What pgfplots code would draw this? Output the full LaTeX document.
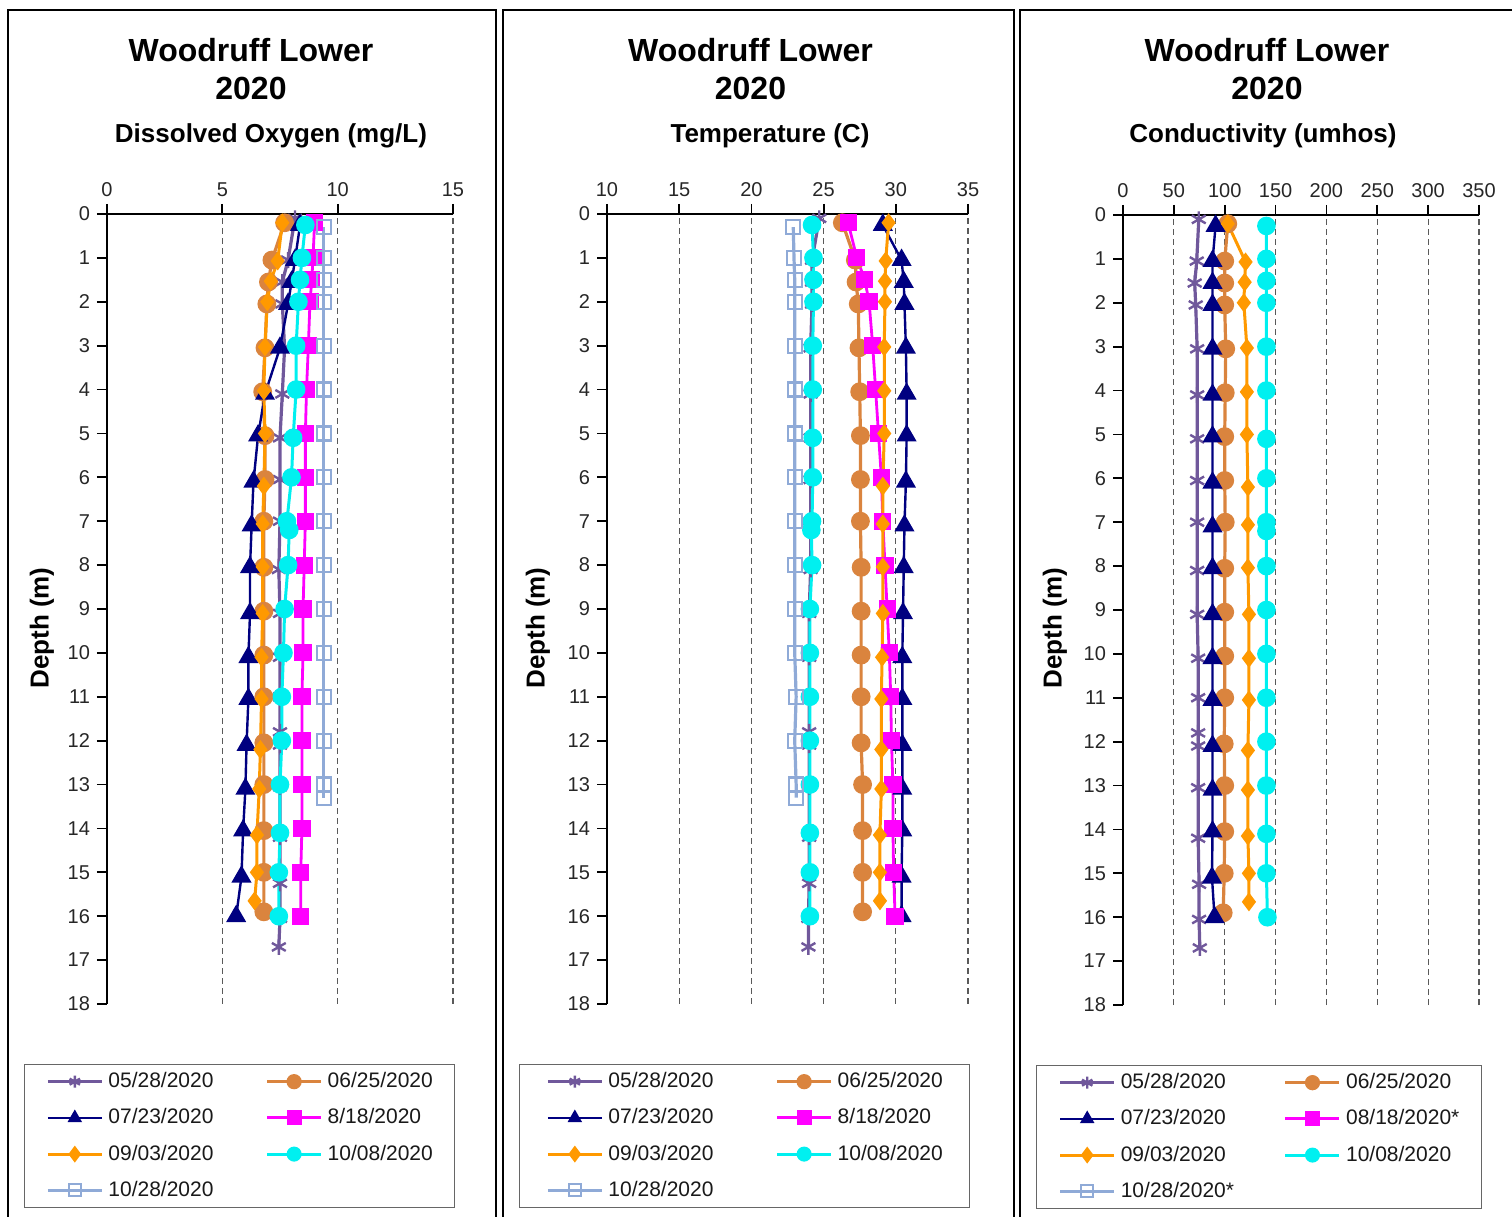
\documentclass[border=0pt]{standalone}
\usepackage{fontspec}
\setmainfont{Liberation Sans}
\usepackage{pgfplots}
\pgfplotsset{compat=1.18}
\definecolor{c0528}{RGB}{112,88,155}
\definecolor{c0625}{RGB}{218,132,62}
\definecolor{c0723}{RGB}{0,0,128}
\definecolor{c0818}{RGB}{255,0,255}
\definecolor{c0903}{RGB}{255,153,0}
\definecolor{c1008}{RGB}{0,240,240}
\definecolor{c1028}{RGB}{143,170,215}
\pgfplotsset{
  s0528/.style={color=c0528, line width=1.6pt, mark=asterisk, mark size=4pt, mark options={solid,line width=1.2pt}},
  s0625/.style={color=c0625, line width=1.6pt, mark=*, mark size=3.9pt},
  s0723/.style={color=c0723, line width=1.2pt, mark=triangle*, mark size=4.6pt},
  s0818/.style={color=c0818, line width=1.4pt, mark=square*, mark size=3.6pt},
  s0903/.style={color=c0903, line width=1.5pt, mark=diamond*, mark size=3.5pt},
  s1008/.style={color=c1008, line width=1.5pt, mark=*, mark size=3.9pt},
  s1028/.style={color=c1028, line width=1.6pt, mark=square, mark size=3.5pt, mark options={line width=1.1pt}},
  panel/.style={
    scale only axis, height=395pt, anchor=south west,
    y filter/.expression={-y},
    ymin=-18, ymax=0, ytick={-18,-17,...,0},
    yticklabel={\pgfmathparse{-\tick}\pgfmathprintnumber{\pgfmathresult}},
    axis x line=top, axis y line=left,
    axis line style={-, line width=1pt, black},
    every outer x axis line/.append style={-},
    every outer y axis line/.append style={-},
    tick style={black, line width=0.9pt},
    major tick length=5pt, tick align=outside,
    xmajorgrids, major x grid style={densely dashed, black!65, line width=0.6pt},
    ticklabel style={font=\fontsize{10}{12}\selectfont, text=black!85},
    /pgf/number format/assume math mode=true,
    clip=false,
    legend columns=2,
    legend image code/.code={\draw[mark repeat=2,mark phase=2,mark size=3pt] plot coordinates {(0pt,0pt) (13.5pt,0pt) (27pt,0pt)};},
    legend cell align=left,
  },
  leg/.style n args={3}{legend style={at={(axis description cs:#1,-0.0759)}, anchor=north, draw=black!60, line width=0.6pt,
     inner xsep=#2, inner ysep=4pt, row sep=9pt,
     font=\fontsize{10.5}{12}\selectfont, text=black!90,
     nodes={inner sep=0pt},
     /tikz/every odd column/.append style={column sep=2.5pt},
     /tikz/every even column/.append style={column sep=#3}}},
}
\begin{document}
\begin{tikzpicture}
\useasboundingbox (0pt,0pt) rectangle (756pt,608.5pt);
\draw[line width=1pt] (4pt,603.5pt) rectangle (248pt,-10pt);
\draw[line width=1pt] (251.5pt,603.5pt) rectangle (507pt,-10pt);
\draw[line width=1pt] (510pt,603.5pt) rectangle (770pt,-10pt);
% titles
\begin{scope}[every node/.style={font=\bfseries\fontsize{16}{18}\selectfont, anchor=base}]
\node at (125.5pt,577.5pt) {Woodruff Lower};
\node at (125.5pt,558.5pt) {2020};
\node at (375.25pt,577.5pt) {Woodruff Lower};
\node at (375.25pt,558.5pt) {2020};
\node at (633.5pt,577.5pt) {Woodruff Lower};
\node at (633.5pt,558.5pt) {2020};
\end{scope}
\begin{scope}[every node/.style={font=\bfseries\fontsize{13}{15}\selectfont, anchor=base}]
\node at (135.5pt,537pt) {Dissolved Oxygen (mg/L)};
\node at (385pt,537pt) {Temperature (C)};
\node at (631.5pt,537pt) {Conductivity (umhos)};
\end{scope}
\begin{scope}[every node/.style={font=\bfseries\fontsize{13}{15}\selectfont, rotate=90, anchor=center}]
\node at (21pt,294.5pt) {Depth (m)};
\node at (269pt,294.5pt) {Depth (m)};
\node at (527.5pt,294.5pt) {Depth (m)};
\end{scope}

% ---------- Panel 1: DO ----------
\begin{axis}[panel, at={(53.5pt,106.5pt)}, width=173pt,
  xmin=0, xmax=15, xtick={0,5,10,15}, leg={0.383}{10.75pt}{26pt}]
\addplot[s0528] coordinates {(8.15,0.1)(7.85,1.05)(7.6,1.55)(7.6,2.05)(7.7,3.05)(7.6,4.1)(7.5,5.1)(7.5,6.05)(7.5,7.0)(7.45,8.1)(7.5,9.1)(7.5,10.1)(7.5,11.0)(7.5,11.8)(7.5,12.1)(7.5,13.05)(7.5,14.2)(7.5,15.25)(7.5,16.05)(7.45,16.7)};
\addlegendentry{05/28/2020}
\addplot[s0625] coordinates {(7.7,0.2)(7.15,1.05)(7.0,1.55)(6.93,2.05)(6.85,3.05)(6.75,4.05)(6.85,5.05)(6.85,6.05)(6.8,7.0)(6.8,8.05)(6.8,9.05)(6.8,10.05)(6.8,11.0)(6.8,12.05)(6.8,13.0)(6.8,14.05)(6.8,15.0)(6.8,15.9)};
\addlegendentry{06/25/2020}
\addplot[s0723] coordinates {(8.37,0.25)(8.15,1.05)(8.0,1.55)(7.85,2.05)(7.5,3.05)(6.85,4.1)(6.55,5.05)(6.35,6.1)(6.27,7.1)(6.2,8.05)(6.2,9.1)(6.13,10.1)(6.13,11.05)(6.05,12.1)(6.0,13.1)(5.9,14.05)(5.83,15.1)(5.6,16.0)};
\addlegendentry{07/23/2020}
\addplot[s0818] coordinates {(9.0,0.2)(8.93,1)(8.88,1.5)(8.8,2)(8.73,3)(8.65,4)(8.6,5)(8.6,6)(8.6,7)(8.55,8)(8.5,9)(8.5,10)(8.45,11)(8.45,12)(8.45,13)(8.45,14)(8.4,15)(8.4,16)};
\addlegendentry{8/18/2020}
\addplot[s0903] coordinates {(7.6,0.2)(7.4,1.07)(7.1,1.53)(6.95,2.0)(6.85,3.03)(6.8,4.03)(6.85,5.0)(6.8,6.2)(6.75,7.06)(6.75,8.04)(6.75,9.1)(6.7,10.1)(6.7,11.05)(6.65,12.2)(6.6,13.1)(6.5,14.15)(6.5,15.0)(6.4,15.65)};
\addlegendentry{09/03/2020}
\addplot[s1008] coordinates {(8.6,0.25)(8.45,1)(8.37,1.5)(8.3,2)(8.2,3)(8.2,4)(8.07,5.1)(8.0,6)(7.8,7)(7.9,7.2)(7.85,8)(7.7,9)(7.65,10)(7.58,11)(7.58,12)(7.5,13)(7.5,14.1)(7.45,15)(7.45,16)};
\addlegendentry{10/08/2020}
\addplot[s1028] coordinates {(9.4,0.3)(9.4,1)(9.4,1.5)(9.4,2)(9.4,3)(9.4,4)(9.4,5)(9.4,6)(9.4,7)(9.4,8)(9.4,9)(9.4,10)(9.4,11)(9.4,12)(9.4,13)(9.4,13.3)};
\addlegendentry{10/28/2020}
\end{axis}

% ---------- Panel 2: Temperature ----------
\begin{axis}[panel, at={(303.5pt,106.5pt)}, width=180.5pt,
  xmin=10, xmax=35, xtick={10,15,...,35}, leg={0.381}{13.5pt}{31pt}]
\addplot[s0528] coordinates {(24.7,0.1)(24.2,1.05)(24.2,1.55)(24.2,2.05)(24.1,3.05)(24.1,4.1)(24.1,5.1)(24.1,6.05)(24.1,7.0)(24.1,8.1)(24.0,9.1)(24.0,10.1)(24.0,11.0)(24.0,11.8)(24.0,12.1)(24.0,13.05)(24.0,14.2)(24.0,15.25)(23.95,16.05)(23.95,16.7)};
\addlegendentry{05/28/2020}
\addplot[s0625] coordinates {(26.3,0.2)(27.2,1.05)(27.25,1.55)(27.4,2.05)(27.45,3.05)(27.5,4.05)(27.55,5.05)(27.55,6.05)(27.55,7.0)(27.6,8.05)(27.6,9.05)(27.6,10.05)(27.6,11.0)(27.6,12.05)(27.7,13.0)(27.7,14.05)(27.7,15.0)(27.7,15.9)};
\addlegendentry{06/25/2020}
\addplot[s0723] coordinates {(29.1,0.25)(30.4,1.05)(30.55,1.55)(30.6,2.05)(30.7,3.05)(30.75,4.1)(30.75,5.05)(30.7,6.1)(30.6,7.1)(30.55,8.05)(30.5,9.1)(30.45,10.1)(30.45,11.05)(30.45,12.1)(30.45,13.1)(30.45,14.05)(30.4,15.1)(30.4,16.0)};
\addlegendentry{07/23/2020}
\addplot[s0818] coordinates {(26.7,0.2)(27.3,1)(27.85,1.5)(28.15,2)(28.4,3)(28.6,4)(28.8,5)(29.0,6)(29.1,7)(29.25,8)(29.4,9)(29.55,10)(29.65,11)(29.7,12)(29.8,13)(29.8,14)(29.85,15)(29.95,16)};
\addlegendentry{8/18/2020}
\addplot[s0903] coordinates {(29.5,0.2)(29.3,1.07)(29.25,1.53)(29.25,2.0)(29.2,3.03)(29.2,4.03)(29.2,5.0)(29.1,6.2)(29.1,7.06)(29.1,8.04)(29.1,9.1)(29.05,10.1)(29.0,11.05)(29.0,12.2)(29.0,13.1)(28.9,14.15)(28.9,15.0)(28.9,15.65)};
\addlegendentry{09/03/2020}
\addplot[s1008] coordinates {(24.2,0.25)(24.3,1)(24.3,1.5)(24.3,2)(24.25,3)(24.25,4)(24.25,5.1)(24.25,6)(24.2,7)(24.15,7.2)(24.2,8)(24.05,9)(24.05,10)(24.05,11)(24.05,12)(24.05,13)(24.05,14.1)(24.05,15)(24.05,16)};
\addlegendentry{10/08/2020}
\addplot[s1028] coordinates {(22.9,0.3)(22.95,1)(23.0,1.5)(23.0,2)(23.0,3)(23.0,4)(23.0,5)(23.0,6)(23.0,7)(23.0,8)(23.0,9)(23.0,10)(23.1,11)(23.0,12)(23.1,13)(23.1,13.3)};
\addlegendentry{10/28/2020}
\end{axis}

% ---------- Panel 3: Conductivity ----------
\begin{axis}[panel, at={(561.5pt,106pt)}, width=178pt,
  xmin=0, xmax=350, xtick={0,50,...,350}, leg={0.382}{10.95pt}{24.9pt}]
\addplot[s0528] coordinates {(74.5,0.1)(72.5,1.05)(70.5,1.55)(71.5,2.05)(72.9,3.05)(72.9,4.1)(72.9,5.1)(72.9,6.05)(72.9,7.0)(72.9,8.1)(72.9,9.1)(73.9,10.1)(73.9,11.0)(73.9,11.8)(73.9,12.1)(73.9,13.05)(73.9,14.2)(74.8,15.25)(74.8,16.05)(75.5,16.7)};
\addlegendentry{05/28/2020}
\addplot[s0625] coordinates {(103,0.2)(100,1.05)(100,1.55)(100,2.05)(101,3.05)(100.5,4.05)(100,5.05)(100,6.05)(100.5,7.0)(100,8.05)(100,9.05)(100,10.05)(100,11.0)(99.5,12.05)(100,13.0)(100,14.05)(99.5,15.0)(98.5,15.9)};
\addlegendentry{06/25/2020}
\addplot[s0723] coordinates {(91,0.25)(88,1.05)(88,1.55)(88,2.05)(88,3.05)(88,4.1)(88,5.05)(88,6.1)(88,7.1)(88,8.05)(88,9.1)(88,10.1)(88,11.05)(88,12.1)(88,13.1)(88,14.05)(87.5,15.1)(90,16.0)};
\addlegendentry{07/23/2020}
\addlegendimage{s0818}
\addlegendentry{08/18/2020*}
\addplot[s0903] coordinates {(103,0.2)(120.5,1.07)(119.6,1.53)(118.8,2.0)(121.8,3.03)(121.8,4.03)(121.8,5.0)(122.8,6.2)(122.8,7.06)(122.8,8.04)(123.8,9.1)(123.8,10.1)(123.8,11.05)(122.8,12.2)(122.8,13.1)(122.8,14.15)(123.8,15.0)(123.8,15.65)};
\addlegendentry{09/03/2020}
\addplot[s1008] coordinates {(141,0.25)(141,1)(141,1.5)(141,2)(141,3)(141,4)(141,5.1)(141,6)(141,7)(141,7.2)(141,8)(141,9)(141,10)(141,11)(141,12)(141,13)(141,14.1)(141,15)(142,16)};
\addlegendentry{10/08/2020}
\addlegendimage{s1028}
\addlegendentry{10/28/2020*}
\end{axis}
\end{tikzpicture}
\end{document}
